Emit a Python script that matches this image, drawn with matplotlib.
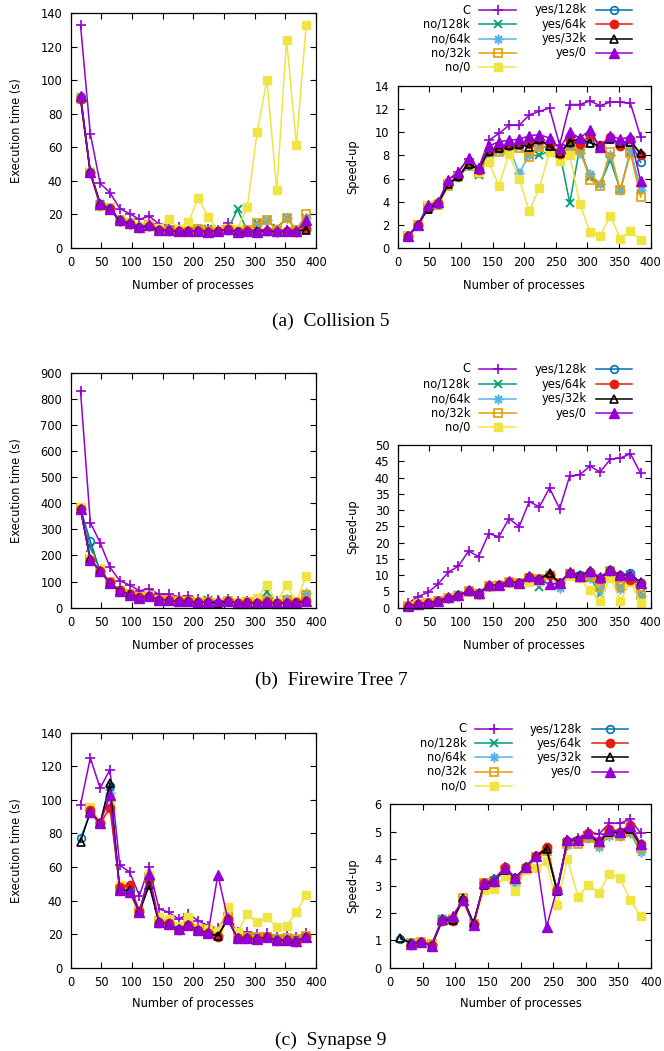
import numpy as np
import matplotlib
matplotlib.use('Agg')
import matplotlib.pyplot as plt
from matplotlib.lines import Line2D

plt.rcParams['font.family'] = ['DejaVu Sans']

# number of processes (x axis of every panel)
procs = [16, 32, 48, 64, 80, 96, 112, 128, 144, 160, 176, 192,
         208, 224, 240, 256, 272, 288, 304, 320, 336, 352, 368, 384]

labels = ['C', 'no/128k', 'no/64k', 'no/32k', 'no/0',
          'yes/128k', 'yes/64k', 'yes/32k', 'yes/0']

# ---- (a) Collision 5 : execution time (s)
coll_time_c      = [133, 68, 38.5, 33, 23.5, 20.5, 17, 19, 14.3, 13.4, 12.5, 12.5, 11.5, 11.3, 11.0, 14.8, 10.7, 10.7, 10.5, 10.8, 10.5, 10.5, 10.6, 13.9]
coll_time_no128  = [90, 45, 26, 23.5, 16, 14.5, 12.5, 14.3, 11, 10.7, 10.3, 10.3, 11.3, 11.3, 10.7, 10.8, 23, 10.3, 14.8, 16.4, 11.8, 18, 10.8, 17.6]
coll_time_no64   = [90, 45, 25, 23.7, 16, 14.5, 12.3, 13.6, 10.8, 10.6, 10.3, 13.8, 11.2, 10.2, 10.5, 10.8, 10.3, 11, 14, 16.4, 11.2, 18, 10.6, 18]
coll_time_no32   = [89, 44.5, 25, 24, 16.5, 14.6, 12.5, 13.7, 11.1, 10.7, 10.5, 10.3, 11.3, 10.2, 10.1, 10.9, 10.5, 10.5, 15.1, 16.5, 10.7, 17.8, 10.9, 20.2]
coll_time_no0    = [90, 45, 25, 24, 16, 15, 13, 14, 12, 17.5, 11.5, 15.5, 30, 18.5, 11, 12, 11.5, 24.5, 69, 100, 34.5, 124, 61.5, 133]
coll_time_yes128 = [90, 45, 26.5, 23.7, 16.4, 14.8, 12.5, 13.2, 10.8, 10.5, 10.2, 10.1, 9.7, 9.7, 10.2, 11, 9.9, 9.7, 9.9, 10.2, 9.6, 10, 9.8, 12.2]
coll_time_yes64  = [88.5, 44.5, 25.5, 23, 16, 14.5, 12.2, 13.4, 10.6, 10.3, 10.1, 10, 10, 9.7, 10.1, 11.1, 9.7, 10, 9.3, 10.1, 9.4, 10.2, 9.6, 11.2]
coll_time_yes32  = [90, 45, 26.5, 23.1, 16.4, 14.5, 12.3, 13.2, 10.7, 10.4, 10.1, 10, 10.3, 9.6, 10.2, 11, 9.8, 9.6, 9.9, 10.2, 9.6, 9.9, 9.8, 11]
coll_time_yes0   = [90.5, 45.5, 26, 23.5, 16.8, 15, 12.5, 14, 11, 10.5, 10.3, 10.2, 10, 9.8, 10.2, 11.2, 9.6, 10.2, 9.4, 11, 9.9, 10.2, 10, 16.5]

# ---- (a) Collision 5 : speed-up
coll_speed_c      = [1.0, 2.0, 3.6, 3.9, 5.8, 6.6, 7.7, 6.9, 9.3, 9.9, 10.6, 10.6, 11.5, 11.8, 12.1, 8.9, 12.4, 12.4, 12.7, 12.3, 12.6, 12.6, 12.5, 9.6]
coll_speed_no128  = [1.0, 2.0, 3.5, 3.8, 5.6, 6.2, 7.3, 6.3, 8.2, 8.4, 8.7, 8.7, 8.0, 8.0, 8.4, 8.3, 3.9, 8.7, 6.1, 5.5, 7.6, 5.0, 8.3, 5.1]
coll_speed_no64   = [1.0, 2.0, 3.6, 3.8, 5.6, 6.2, 7.3, 6.6, 8.3, 8.5, 8.7, 6.5, 8.0, 8.8, 8.6, 8.3, 8.7, 8.2, 6.4, 5.5, 8.0, 5.0, 8.5, 5.0]
coll_speed_no32   = [1.0, 2.0, 3.6, 3.7, 5.4, 6.1, 7.1, 6.5, 8.0, 8.3, 8.5, 8.6, 7.9, 8.7, 8.8, 8.2, 8.5, 8.5, 5.9, 5.4, 8.3, 5.0, 8.2, 4.4]
coll_speed_no0    = [1.0, 2.0, 3.7, 3.9, 5.7, 6.1, 7.2, 6.6, 7.4, 5.4, 8.1, 6.0, 3.2, 5.2, 8.3, 7.5, 8.0, 3.8, 1.4, 1.0, 2.8, 0.8, 1.5, 0.7]
coll_speed_yes128 = [1.0, 2.0, 3.4, 3.8, 5.5, 6.1, 7.2, 6.8, 8.3, 8.6, 8.8, 8.9, 9.3, 9.3, 8.8, 8.2, 9.1, 9.3, 9.1, 8.8, 9.4, 9.0, 9.2, 7.4]
coll_speed_yes64  = [1.0, 2.0, 3.5, 3.9, 5.6, 6.2, 7.4, 6.7, 8.5, 8.7, 8.9, 9.0, 9.0, 9.3, 8.9, 8.1, 9.3, 9.0, 9.7, 8.9, 9.6, 8.8, 9.4, 8.0]
coll_speed_yes32  = [1.0, 2.0, 3.4, 3.9, 5.5, 6.2, 7.3, 6.8, 8.4, 8.6, 8.9, 9.0, 8.7, 9.4, 8.8, 8.2, 9.2, 9.4, 9.1, 8.8, 9.4, 9.1, 9.2, 8.2]
coll_speed_yes0   = [1.0, 2.0, 3.7, 4.0, 5.9, 6.6, 7.8, 6.9, 8.8, 9.2, 9.3, 9.4, 9.7, 9.8, 9.5, 8.6, 10.0, 9.5, 10.2, 8.7, 9.7, 9.4, 9.6, 5.8]

# ---- (b) Firewire Tree 7 : execution time (s)
fw_time_c      = [831, 326, 249, 155, 103, 87, 65, 72, 51, 51, 42, 45, 34, 35, 29, 35, 27, 26, 25, 26, 24, 23.5, 23, 26]
fw_time_no128  = [378, 230, 140, 96, 64, 51, 39, 45, 29, 28, 24, 25, 21, 30, 19, 25, 18, 19.5, 21, 62, 17, 30, 19, 42]
fw_time_no64   = [378, 185, 142, 96, 64, 51, 39, 45, 29, 28, 24, 25, 21, 22, 19, 31, 18, 20, 21, 35, 17, 33, 19, 55]
fw_time_no32   = [382, 185, 145, 97, 65, 52, 40, 46, 30, 29, 25, 26, 21, 22, 19.5, 25, 18.5, 21, 20, 30, 17, 28, 21, 50]
fw_time_no0    = [385, 192, 152, 98, 66, 53, 41, 47, 31, 29, 25, 27, 24, 23, 20, 26, 20, 21, 36, 87, 21, 86, 24, 120]
fw_time_yes128 = [378, 255, 138, 95, 64, 51, 38, 45, 29, 28, 24, 25, 20, 22, 19, 25, 18, 19.5, 17.5, 21, 16.5, 19, 18, 25]
fw_time_yes64  = [378, 183, 142, 97, 66, 53, 40, 46, 30, 28, 25, 25, 21, 22, 19, 25, 18, 20, 17.5, 21.5, 17, 19.5, 22.5, 25.5]
fw_time_yes32  = [378, 185, 140, 96, 64, 51, 39, 45, 29, 28, 24, 25, 20, 22, 17.5, 25, 18, 19, 17, 21, 16.5, 19, 19, 24.5]
fw_time_yes0   = [378, 182, 140, 95, 63, 50, 38, 45, 29, 28, 24, 25, 20, 22, 26, 25, 18, 19, 17, 21, 16.5, 19, 18.5, 25]

# ---- (b) Firewire Tree 7 : speed-up
fw_speed_c      = [1.3, 3.4, 4.7, 7.3, 10.9, 12.8, 17.4, 15.7, 22.8, 21.8, 27.4, 24.9, 32.6, 31.0, 36.8, 30.4, 40.5, 40.9, 43.5, 41.7, 45.6, 46.0, 47.3, 41.3]
fw_speed_no128  = [0.5, 0.9, 1.5, 2.1, 3.1, 3.8, 5.2, 4.4, 6.8, 7.0, 8.0, 7.7, 9.2, 6.3, 10.0, 7.6, 10.6, 9.8, 9.2, 4.3, 11.3, 6.3, 10.0, 4.5]
fw_speed_no64   = [0.5, 1.1, 1.4, 2.0, 3.0, 3.8, 5.1, 4.3, 6.7, 6.9, 7.9, 7.6, 9.2, 8.6, 10.0, 6.0, 10.6, 9.6, 9.0, 5.5, 11.2, 5.8, 10.0, 3.6]
fw_speed_no32   = [0.5, 1.1, 1.4, 2.0, 3.0, 3.7, 5.0, 4.2, 6.6, 6.8, 7.8, 7.5, 9.2, 8.7, 9.8, 7.6, 10.4, 9.2, 9.5, 6.5, 11.3, 6.8, 9.0, 4.0]
fw_speed_no0    = [0.5, 1.0, 1.3, 1.9, 2.9, 3.6, 4.8, 4.0, 6.3, 6.6, 7.7, 7.2, 8.0, 8.3, 9.6, 7.3, 9.6, 9.0, 5.3, 2.2, 9.2, 2.2, 8.0, 1.5]
fw_speed_yes128 = [0.5, 0.8, 1.5, 2.1, 3.1, 3.8, 5.2, 4.4, 6.8, 7.0, 8.0, 7.7, 9.5, 8.8, 10.2, 7.6, 10.8, 10.0, 11.1, 9.0, 11.6, 10.0, 10.6, 7.6]
fw_speed_yes64  = [0.5, 1.1, 1.4, 2.0, 3.0, 3.6, 5.0, 4.2, 6.7, 6.9, 7.8, 7.7, 9.3, 8.7, 10.0, 7.6, 10.7, 9.4, 11.0, 8.8, 11.4, 9.8, 8.5, 7.5]
fw_speed_yes32  = [0.5, 1.1, 1.5, 2.1, 3.1, 3.8, 5.2, 4.4, 6.8, 7.0, 8.0, 7.7, 9.5, 8.8, 10.8, 7.6, 10.8, 10.0, 11.2, 9.2, 11.6, 10.0, 10.2, 7.8]
fw_speed_yes0   = [0.5, 1.2, 1.5, 2.2, 3.2, 3.8, 5.4, 4.4, 7.0, 7.0, 8.1, 7.7, 9.6, 8.8, 7.2, 7.5, 11.1, 9.8, 11.3, 9.4, 11.7, 10.1, 10.0, 7.5]

# ---- (c) Synapse 9 : execution time (s)   (None = no run)
syn_time_c      = [97, 125, 107, 118, 61, 57, 43, 60, 35, 33, 29, 32, 28, 25, 23.5, 32, 21, 21, 20, 20.5, 19, 19, 18.5, 20.5]
syn_time_no128  = [None, 93, 86, 104, 46, 46, 33, 53, 27, 26, 23, 26, 22.5, 20.5, 19.5, 29, 18, 18, 17.5, 18.5, 17, 17, 16.5, 19]
syn_time_no64   = [None, 93, 86, 104, 46, 46, 33, 53, 27.5, 26, 23.5, 27, 22.5, 21, 19.5, 29.5, 18.5, 18, 17.5, 19, 17, 17.5, 16.5, 19.5]
syn_time_no32   = [None, 95, 86, 100, 47, 47, 33.5, 54, 28, 27, 24, 26.5, 23, 21, 20, 30, 18.5, 18.5, 18, 18.5, 17, 17.5, 17, 19]
syn_time_no0    = [None, 96, 87, 98, 49, 47, 34, 55, 30, 29, 25, 30, 23, 23, 22, 36, 21, 32, 27, 30, 24, 25, 33, 43.5]
syn_time_yes128 = [77, 92, 86, 108, 46, 46, 33, 52, 27, 26, 23, 25.5, 22.5, 20.5, 19, 29, 17.5, 17.5, 17, 18, 16.5, 16.5, 16, 18.5]
syn_time_yes64  = [None, 94, 86, 95, 48, 49, 34, 52, 26.5, 26.5, 22.5, 25.5, 22.5, 20.5, 18.5, 29, 17.5, 17.5, 17, 18, 16, 16.5, 15.5, 18.5]
syn_time_yes32  = [75, 93, 86, 110, 46, 46, 33, 49, 27, 26, 23, 25.5, 22.5, 20.5, 19, 29, 17.5, 17.5, 17, 18, 16.5, 16.5, 16, 18.5]
syn_time_yes0   = [None, 93, 86, 103, 46, 45, 33, 56, 27, 26, 23, 25.5, 22.5, 20.5, 55.5, 29, 17.5, 17.5, 17, 18, 16.5, 16.5, 16, 18.5]

# ---- (c) Synapse 9 : speed-up
syn_speed_c      = [None, 0.85, 0.95, 0.82, 1.8, 1.85, 2.5, 1.6, 3.1, 3.25, 3.7, 3.3, 3.7, 4.1, 4.35, 2.85, 4.7, 4.75, 5.0, 4.9, 5.3, 5.3, 5.45, 4.95]
syn_speed_no128  = [None, 0.88, 0.95, 0.85, 1.8, 1.8, 2.5, 1.6, 3.1, 3.2, 3.6, 3.25, 3.65, 4.05, 4.3, 2.85, 4.6, 4.65, 4.85, 4.55, 4.95, 4.9, 5.05, 4.45]
syn_speed_no64   = [None, 0.88, 0.95, 0.85, 1.8, 1.8, 2.45, 1.6, 3.05, 3.2, 3.55, 3.05, 3.65, 4.05, 4.3, 2.8, 4.5, 4.6, 4.75, 4.45, 4.85, 4.85, 4.95, 4.25]
syn_speed_no32   = [None, 0.9, 0.95, 0.88, 1.7, 1.8, 2.55, 1.6, 3.1, 3.2, 3.6, 3.25, 3.6, 4.05, 4.3, 2.8, 4.55, 4.55, 4.75, 4.55, 4.9, 4.85, 5.0, 4.4]
syn_speed_no0    = [None, 0.88, 0.95, 0.85, 1.75, 1.8, 2.4, 1.55, 2.85, 2.9, 3.35, 2.8, 3.6, 3.65, 3.9, 2.3, 4.0, 2.6, 3.05, 2.75, 3.45, 3.3, 2.5, 1.9]
syn_speed_yes128 = [1.05, 0.9, 0.95, 0.85, 1.8, 1.8, 2.5, 1.6, 3.1, 3.25, 3.65, 3.3, 3.7, 4.1, 4.4, 2.85, 4.65, 4.7, 4.9, 4.6, 5.0, 5.0, 5.15, 4.5]
syn_speed_yes64  = [None, 0.85, 0.95, 0.85, 1.7, 1.7, 2.5, 1.6, 3.1, 3.15, 3.7, 3.3, 3.7, 4.1, 4.45, 2.85, 4.65, 4.7, 4.95, 4.65, 5.1, 5.0, 5.25, 4.55]
syn_speed_yes32  = [1.1, 0.9, 0.95, 0.8, 1.75, 1.75, 2.55, 1.65, 3.05, 3.2, 3.6, 3.3, 3.7, 4.1, 4.35, 2.8, 4.7, 4.7, 4.9, 4.6, 5.0, 4.95, 5.1, 4.5]
syn_speed_yes0   = [None, 0.88, 0.95, 0.8, 1.8, 1.9, 2.5, 1.55, 3.1, 3.2, 3.65, 3.3, 3.7, 4.1, 1.5, 2.9, 4.7, 4.7, 4.95, 4.65, 5.05, 5.0, 5.2, 4.55]

# gnuplot-like styles
styles = [
    dict(color='#9400d3', marker='+', ms=7, mew=1.2),
    dict(color='#009e73', marker='x', ms=5.5, mew=1.3),
    dict(color='#56b4e9', marker=(8, 2, 0), ms=7, mew=1.1),
    dict(color='#e69f00', marker='s', ms=5.5, mfc='none', mew=1.2),
    dict(color='#f0e442', marker='s', ms=6),
    dict(color='#0072b2', marker='o', ms=5.5, mfc='none', mew=1.2),
    dict(color='#e51e10', marker='o', ms=6),
    dict(color='black', marker='^', ms=5.5, mfc='none', mew=1.2),
    dict(color='#9400d3', marker='^', ms=6.5),
]

W, H = 664, 1051
fig = plt.figure(figsize=(W / 100, H / 100), dpi=100)


def fx(x):
    return x / W


def fy(y):
    return 1 - y / H


def add_ax(x0, y0, x1, y1):
    return fig.add_axes([fx(x0), fy(y1), (x1 - x0) / W, (y1 - y0) / H])


def draw(ax, series, ymax, ystep, ylabel, ylab_x, xlab_y):
    for vals, st in zip(series, styles):
        ax.plot(procs, np.array(vals, dtype=float), lw=1.1, clip_on=False, **st)
    ax.set_xlim(0, 400)
    ax.set_ylim(0, ymax)
    ax.set_xticks(np.arange(0, 401, 50))
    ax.set_yticks(np.arange(0, ymax + ystep / 2, ystep))
    ax.tick_params(direction='in', length=4, width=0.8, top=True, right=True,
                   labelsize=8.3, pad=6)
    for sp in ax.spines.values():
        sp.set_linewidth(0.9)
    ax.set_xlabel('Number of processes', fontsize=8.3)
    ax.set_ylabel(ylabel, fontsize=8.3)
    ax.xaxis.set_label_coords(0, fy(xlab_y), transform=fig.transFigure)
    ax.xaxis.label.set_va('center')
    # x position of the xlabel: centre of the axes
    bb = ax.get_position()
    ax.xaxis.set_label_coords((bb.x0 + bb.x1) / 2, fy(xlab_y), transform=fig.transFigure)
    ax.yaxis.set_label_coords(fx(ylab_x), (bb.y0 + bb.y1) / 2, transform=fig.transFigure)
    ax.yaxis.label.set_va('center')
    ax.yaxis.label.set_ha('center')


def legend(col1, col2, ys):
    # col = (label right edge, line start, line end) in pixels
    for i, (lab, st) in enumerate(zip(labels, styles)):
        if i < 5:
            xr, l0, l1 = col1
            y = ys[i]
        else:
            xr, l0, l1 = col2
            y = ys[i - 5]
        fig.text(fx(xr), fy(y), lab, ha='right', va='center', fontsize=8.3)
        fig.add_artist(Line2D([fx(l0), fx((l0 + l1) / 2), fx(l1)], [fy(y)] * 3,
                              transform=fig.transFigure, lw=1.1, markevery=[1], **st))


panels = [
    ('(a)  Collision 5', 321,
     [coll_time_c, coll_time_no128, coll_time_no64, coll_time_no32, coll_time_no0,
      coll_time_yes128, coll_time_yes64, coll_time_yes32, coll_time_yes0],
     [coll_speed_c, coll_speed_no128, coll_speed_no64, coll_speed_no32, coll_speed_no0,
      coll_speed_yes128, coll_speed_yes64, coll_speed_yes32, coll_speed_yes0],
     (70.7, 13, 316, 248), (397.7, 86, 650.7, 248), 140, 20, 14, 2, 285,
     (470, 479, 516), (587, 596, 632), [10, 24.3, 38.5, 52.7, 67]),
    ('(b)  Firewire Tree 7', 680,
     [fw_time_c, fw_time_no128, fw_time_no64, fw_time_no32, fw_time_no0,
      fw_time_yes128, fw_time_yes64, fw_time_yes32, fw_time_yes0],
     [fw_speed_c, fw_speed_no128, fw_speed_no64, fw_speed_no32, fw_speed_no0,
      fw_speed_yes128, fw_speed_yes64, fw_speed_yes32, fw_speed_yes0],
     (70.7, 372.7, 316, 607.7), (397.7, 445, 650.7, 607.7), 900, 100, 50, 5, 645,
     (470, 479, 516), (587, 596, 632), [369, 384, 398.5, 413, 427.5]),
    ('(c)  Synapse 9', 1040,
     [syn_time_c, syn_time_no128, syn_time_no64, syn_time_no32, syn_time_no0,
      syn_time_yes128, syn_time_yes64, syn_time_yes32, syn_time_yes0],
     [syn_speed_c, syn_speed_no128, syn_speed_no64, syn_speed_no32, syn_speed_no0,
      syn_speed_yes128, syn_speed_yes64, syn_speed_yes32, syn_speed_yes0],
     (70.7, 732.7, 316, 967.7), (390, 804.3, 651, 967.7), 140, 20, 6, 1, 1004,
     (466.7, 475, 512), (582, 592, 628), [729, 743.3, 757.3, 771.5, 786]),
]

for (cap, cap_y, times, speeds, box_l, box_r, tmax, tstep, smax, sstep, xlab_y,
     col1, col2, ys) in panels:
    axl = add_ax(*box_l)
    draw(axl, times, tmax, tstep, 'Execution time (s)', 17, xlab_y)
    axr = add_ax(*box_r)
    draw(axr, speeds, smax, sstep, 'Speed-up', 352.5, xlab_y)
    legend(col1, col2, ys)
    fig.text(fx(331), fy(cap_y), cap, ha='center', va='center',
             family='Liberation Serif', fontsize=14)

fig.savefig('out.png', dpi=100)
